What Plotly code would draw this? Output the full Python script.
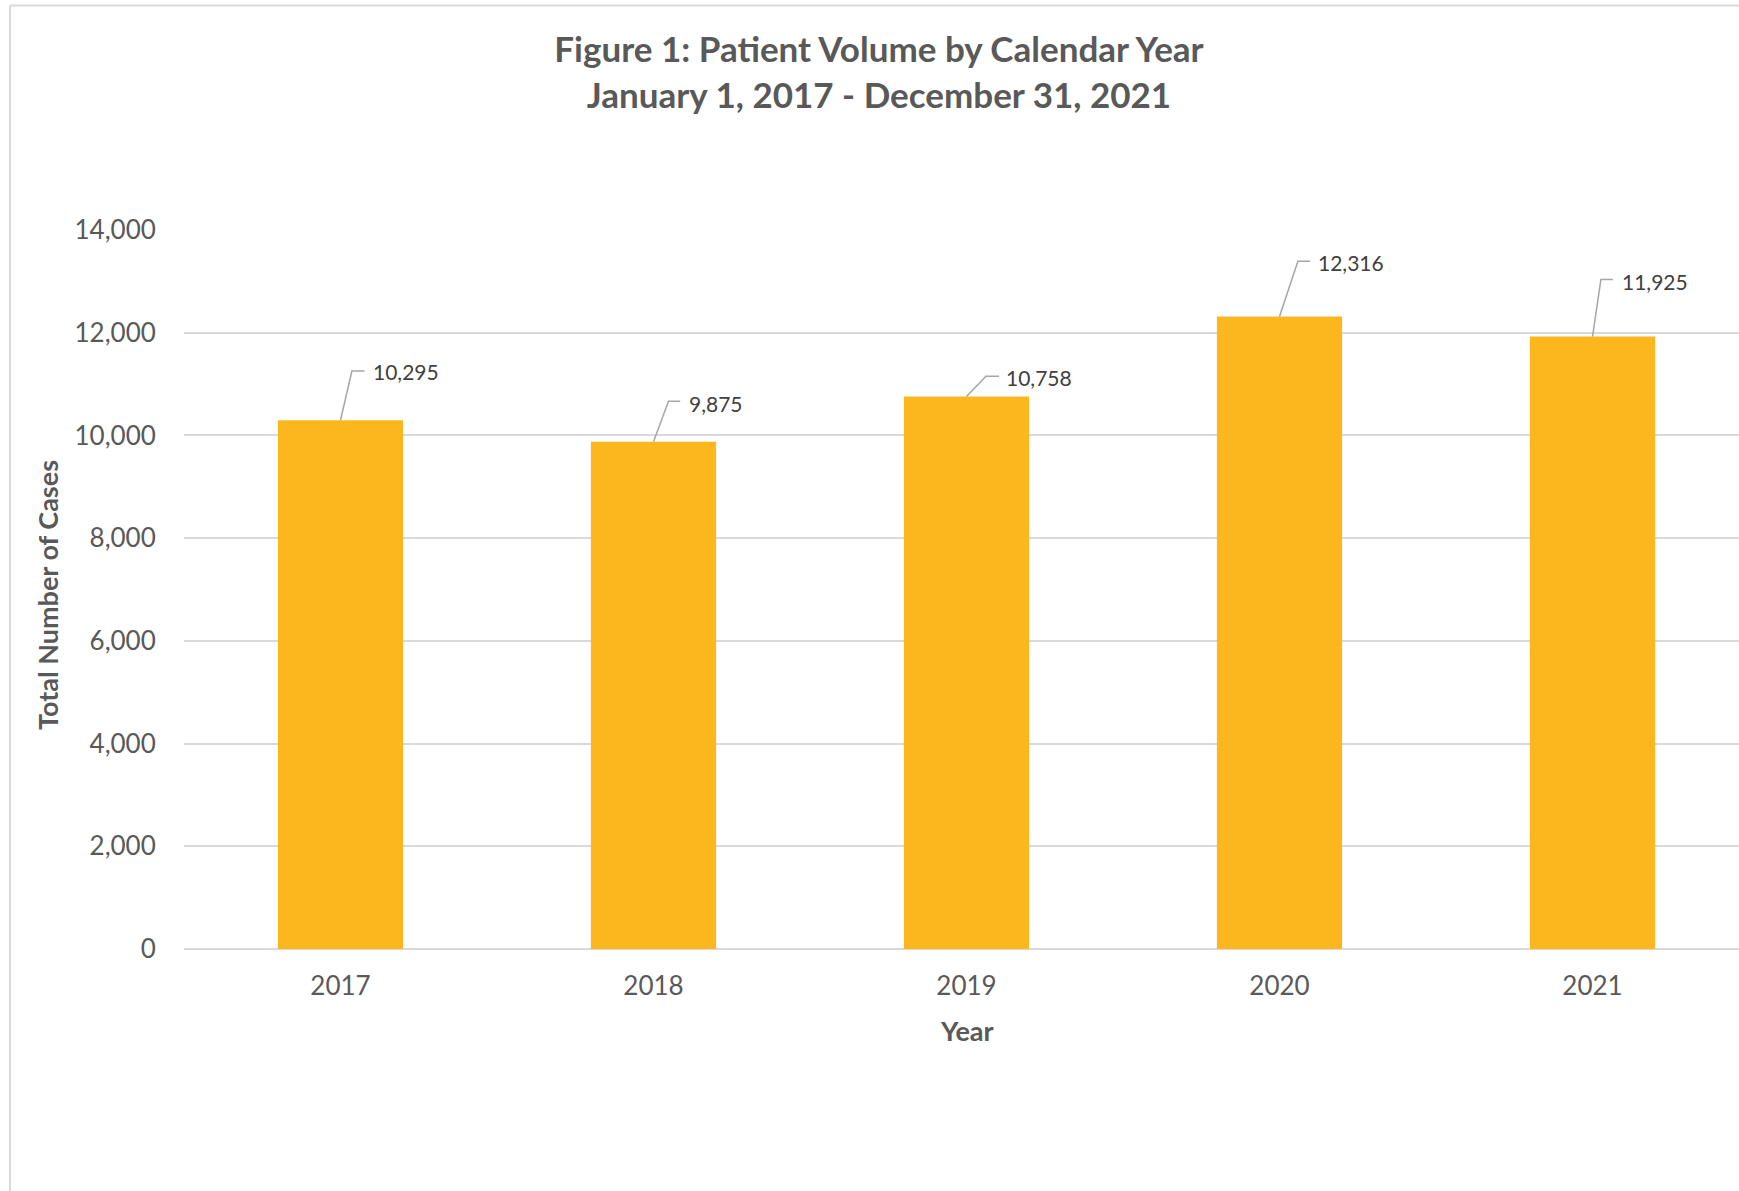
import plotly.graph_objects as go

# Annual patient volume
years = ["2017", "2018", "2019", "2020", "2021"]
cases = [10295, 9875, 10758, 12316, 11925]
y_ticks = [0, 2000, 4000, 6000, 8000, 10000, 12000, 14000]

# Callout placement for each value label, in pixels from the bar top:
# (elbow dx, elbow dy, leader end dx, text dx, text dy)
callouts = [
    (11.4, 49.3, 24.0, 30.0, 48.3),
    (15.0, 40.7, 26.7, 33.0, 38.4),
    (19.5, 20.3, 32.5, 37.8, 18.7),
    (18.4, 55.3, 30.7, 36.7, 53.9),
    (8.4, 57.0, 20.4, 27.0, 55.3),
]

W, H = 1739, 1191
L, T, B = 184, 229.6, 241.6
BAND = 313.0
plot_w = W - L
FONT = "Lato"
GREY = "#595959"

fig = go.Figure(
    go.Bar(
        x=years,
        y=cases,
        width=0.4,
        marker=dict(color="#FDB71E", line=dict(width=0)),
        hoverinfo="x+y",
    )
)

shapes = []
annotations = []
for i, (yr, v) in enumerate(zip(years, cases)):
    ex, ey, hx, tx, ty = callouts[i]
    shapes.append(dict(
        type="path", xref="x", yref="y",
        xsizemode="pixel", ysizemode="pixel",
        xanchor=i, yanchor=v,
        path=f"M0,0 L{ex},{ey} L{hx},{ey}",
        line=dict(color="#A6A6A6", width=1.5),
    ))
    annotations.append(dict(
        x=i, y=v, xref="x", yref="y",
        text=f"{v:,}", showarrow=False,
        xanchor="left", yanchor="middle",
        xshift=tx, yshift=ty,
        font=dict(family=FONT, size=21, color="#404040"),
    ))

# chart-area frame (left and top edges)
shapes.append(dict(type="line", xref="paper", yref="paper",
                   xsizemode="pixel", ysizemode="pixel", xanchor=0, yanchor=1,
                   x0=10 - L, x1=10 - L, y0=T - 5, y1=-(H - T),
                   line=dict(color="#D9D9D9", width=2), layer="below"))
shapes.append(dict(type="line", xref="paper", yref="paper",
                   xsizemode="pixel", ysizemode="pixel", xanchor=0, yanchor=1,
                   x0=10 - L, x1=W - L + 5, y0=T - 5, y1=T - 5,
                   line=dict(color="#D9D9D9", width=2), layer="below"))

plot_h = H - T - B
annotations.append(dict(
    x=(48 - L) / plot_w, y=(H - B - 595) / plot_h,
    xref="paper", yref="paper", text="<b>Total Number of Cases</b>",
    textangle=-90, showarrow=False, xanchor="center", yanchor="middle",
    font=dict(family=FONT, size=27, color=GREY),
))
annotations.append(dict(
    x=2, y=(H - B - 1031) / plot_h, xref="x", yref="paper",
    text="<b>Year</b>", showarrow=False, xanchor="center", yanchor="middle",
    font=dict(family=FONT, size=27, color=GREY),
))

fig.update_layout(
    width=W, height=H,
    margin=dict(l=L, r=0, t=T, b=B, pad=0),
    paper_bgcolor="white", plot_bgcolor="white",
    showlegend=False,
    title=dict(
        text="<b>Figure 1: Patient Volume by Calendar Year<br>January 1, 2017 - December 31, 2021</b>",
        x=879 / W, xanchor="center", xref="container",
        y=1 - 62 / H, yanchor="middle", yref="container",
        font=dict(family=FONT, size=35, color=GREY),
    ),
    xaxis=dict(
        type="category",
        range=[-0.5, -0.5 + plot_w / BAND],
        showgrid=False, zeroline=False, showline=False,
        ticks="outside", ticklen=14, tickcolor="rgba(0,0,0,0)",
        tickfont=dict(family=FONT, size=26, color=GREY),
        fixedrange=True,
    ),
    yaxis=dict(
        range=[0, 14000],
        tickvals=y_ticks,
        ticktext=[f"{t:,}" for t in y_ticks],
        showgrid=True, gridcolor="#D9D9D9", gridwidth=1.5,
        zeroline=True, zerolinecolor="#D9D9D9", zerolinewidth=2,
        showline=False,
        ticks="outside", ticklen=22, tickcolor="rgba(0,0,0,0)",
        tickfont=dict(family=FONT, size=26, color=GREY),
        fixedrange=True,
    ),
    shapes=shapes,
    annotations=annotations,
)

fig.write_html("out.html")
